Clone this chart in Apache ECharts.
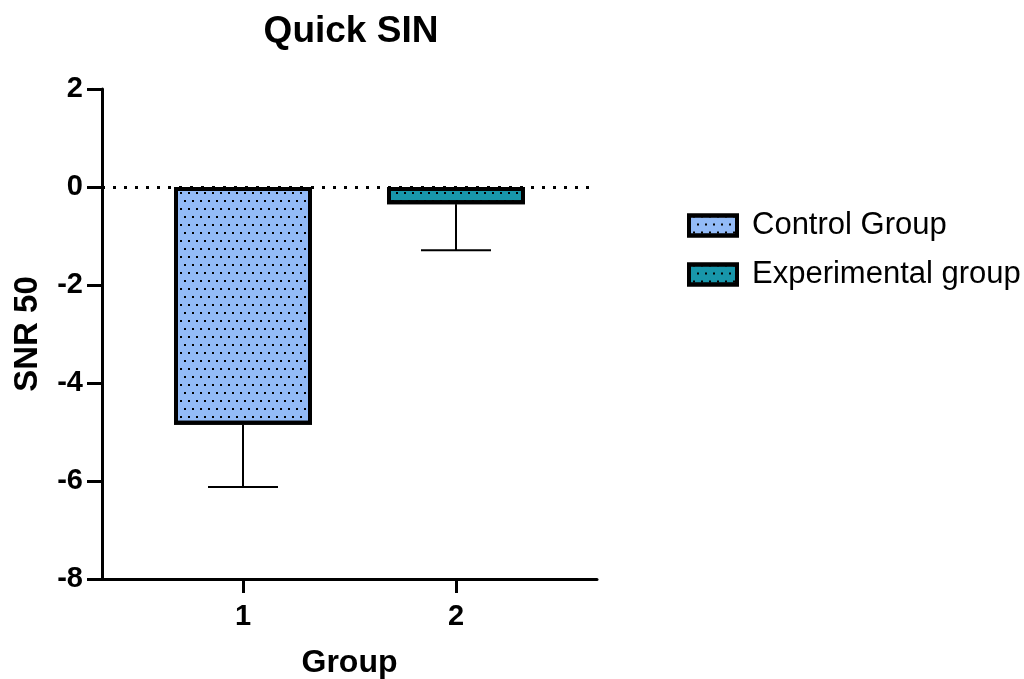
<!DOCTYPE html>
<html>
<head>
<meta charset="utf-8">
<script src="https://cdn.jsdelivr.net/npm/echarts@6/dist/echarts.min.js"></script>
<style>
  html, body { margin: 0; padding: 0; background: #fff; }
  #chart { width: 1024px; height: 679px; }
</style>
</head>
<body>
<div id="chart"></div>
<script>
const groups = [1, 2];
const groupNames = ["Control Group", "Experimental group"];
const means = [-4.85, -0.35];
const errEnds = [-6.12, -1.29];
const barColors = ["#93BBF7", "#1896AA"];
const yTicks = [-8, -6, -4, -2, 0, 2];

const font = "Liberation Sans, Arial, sans-serif";
const chart = echarts.init(document.getElementById("chart"));

const dotDecal = {
  symbol: "rect",
  symbolSize: 1,
  color: "#000",
  dashArrayX: [[2, 6], [0, 4, 2, 2]],
  dashArrayY: [2, 6],
  rotation: 0
};

const barSeries = groupNames.map((name, i) => ({
  name: name,
  type: "bar",
  barWidth: 138,
  barGap: "-100%",
  data: [[groups[i], means[i]]],
  itemStyle: {
    color: barColors[i],
    borderColor: "#000",
    borderWidth: 4,
    decal: dotDecal
  },
  markLine: i === 0 ? {
    silent: true,
    symbol: "none",
    label: { show: false },
    lineStyle: { color: "#000", type: [3, 8], width: 3 },
    data: [{ yAxis: 0 }]
  } : undefined,
  z: 2
}));

const errSeries = {
  type: "custom",
  name: "err",
  data: groups.map((g, i) => [g, means[i], errEnds[i]]),
  renderItem: (params, api) => {
    const p1 = api.coord([api.value(0), api.value(1)]);
    const p2 = api.coord([api.value(0), api.value(2)]);
    const half = 35;
    return {
      type: "group",
      children: [
        { type: "line", shape: { x1: p1[0], y1: p1[1], x2: p2[0], y2: p2[1] },
          style: { stroke: "#000", lineWidth: 2 } },
        { type: "line", shape: { x1: p2[0] - half, y1: p2[1], x2: p2[0] + half, y2: p2[1] },
          style: { stroke: "#000", lineWidth: 2 } }
      ]
    };
  },
  z: 3
};

const option = {
  animation: false,
  textStyle: { fontFamily: font },
  title: {
    text: "Quick SIN",
    left: 346,
    textAlign: "center",
    top: 8,
    textStyle: { fontFamily: font, fontWeight: "bold", fontSize: 37, color: "#000" }
  },
  legend: {
    data: groupNames,
    orient: "vertical",
    left: 682,
    top: 205,
    icon: "rect",
    itemWidth: 48,
    itemHeight: 20,
    itemGap: 18,
    textStyle: { fontFamily: font, fontSize: 31, color: "#000", padding: [0, 0, 0, 10] },
    itemStyle: { borderColor: "#000", borderWidth: 4 }
  },
  grid: { left: 102, right: 427, top: 89, bottom: 100, outerBoundsMode: "none", containLabel: false },
  xAxis: {
    type: "value",
    min: 0.338,
    max: 2.662,
    name: "Group",
    nameLocation: "middle",
    nameGap: 68,
    nameTextStyle: { fontFamily: font, fontWeight: "bold", fontSize: 32, color: "#000" },
    axisLine: { onZero: false, lineStyle: { color: "#000", width: 3 } },
    axisTick: { show: true, customValues: groups, length: 14, lineStyle: { color: "#000", width: 3 } },
    axisLabel: {
      customValues: groups,
      margin: 23,
      fontFamily: font, fontWeight: "bold", fontSize: 29, color: "#000"
    },
    splitLine: { show: false }
  },
  yAxis: {
    type: "value",
    min: -8,
    max: 2,
    interval: 2,
    name: "SNR 50",
    nameLocation: "middle",
    nameGap: 58,
    nameTextStyle: { fontFamily: font, fontWeight: "bold", fontSize: 33, color: "#000" },
    axisLine: { show: true, lineStyle: { color: "#000", width: 3 } },
    axisTick: { show: true, length: 15, lineStyle: { color: "#000", width: 3 } },
    axisLabel: {
      margin: 19,
      fontFamily: font, fontWeight: "bold", fontSize: 29, color: "#000",
      formatter: (v) => yTicks.includes(v) ? String(v) : ""
    },
    splitLine: { show: false }
  },
  series: [...barSeries, errSeries]
};

chart.setOption(option);
</script>
</body>
</html>
